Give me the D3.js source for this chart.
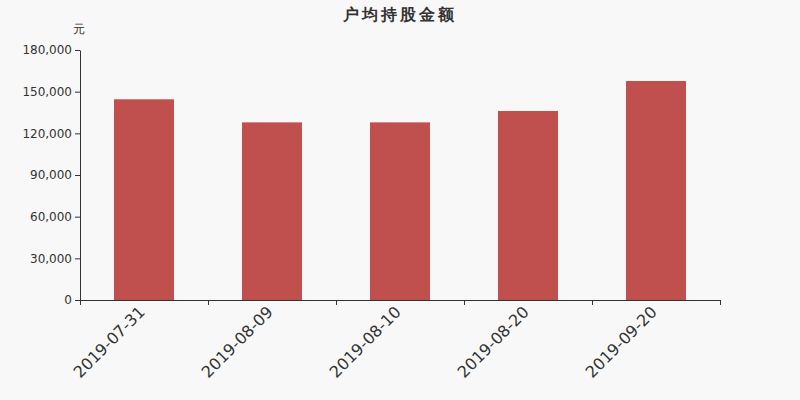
<!DOCTYPE html>
<html>
<head>
<meta charset="utf-8">
<script src="https://cdn.jsdelivr.net/npm/d3@7"></script>
<style>
  body { margin: 0; background: #f8f8f8; }
  svg, svg text { display: block; font-family: "DejaVu Sans", sans-serif; }
</style>
</head>
<body>
<div id="chart"></div>
<script>
// chart data
const categories = ['2019-07-31', '2019-08-09', '2019-08-10', '2019-08-20', '2019-09-20']
const values = [144500, 127900, 127900, 136100, 157700]
const yTicks = [0, 30000, 60000, 90000, 120000, 150000, 180000]
const title = '户均持股金额'
const unit = '元'

const width = 800, height = 400
const margin = { top: 50, right: 80, bottom: 100, left: 80 }
const innerW = width - margin.left - margin.right
const innerH = height - margin.top - margin.bottom
const font = '"DejaVu Sans", sans-serif'

const svg = d3.select('#chart').append('svg')
	.attr('width', width)
	.attr('height', height)

svg.append('rect').attr('width', width).attr('height', height).attr('fill', '#f8f8f8')

const g = svg.append('g')
	.attr('transform', `translate(${margin.left},${margin.top})`)

const x = d3.scaleBand().domain(categories).range([0, innerW])
const y = d3.scaleLinear().domain([0, 180000]).range([innerH, 0])

const barW = 60

// bars
g.selectAll('.bar')
	.data(values)
	.enter().append('rect')
	.attr('class', 'bar')
	.attr('x', (d, i) => x(categories[i]) + x.bandwidth() / 2 - barW / 2)
	.attr('y', d => y(d))
	.attr('width', barW)
	.attr('height', d => innerH - y(d))
	.attr('fill', '#c0504d')

// y axis
const yAxis = g.append('g')
	.call(d3.axisLeft(y).tickValues(yTicks).tickSize(5).tickPadding(3).tickFormat(d3.format(',')))
	.attr('font-family', font)
yAxis.select('.domain').attr('stroke', '#333').attr('d', `M0.5,0.5V${innerH + 0.5}`)
yAxis.selectAll('line').attr('stroke', '#333')
yAxis.selectAll('text').attr('fill', '#333').attr('font-size', 12)

// x axis with ticks on band edges
const xAxis = g.append('g')
	.attr('transform', `translate(0,${innerH})`)
	.call(d3.axisBottom(x).tickSize(0).tickSizeOuter(0))
	.attr('font-family', font)
xAxis.select('.domain').attr('stroke', '#333')
xAxis.selectAll('.tick line').remove()
xAxis.selectAll('.edge')
	.data(d3.range(categories.length + 1))
	.enter().append('line')
	.attr('class', 'edge')
	.attr('x1', i => Math.round(i * x.step()) + 0.5)
	.attr('x2', i => Math.round(i * x.step()) + 0.5)
	.attr('y1', 0)
	.attr('y2', 5)
	.attr('stroke', '#333')
xAxis.selectAll('.tick text')
	.attr('fill', '#333')
	.attr('font-size', 16)
	.attr('text-anchor', 'end')
	.attr('y', 0)
	.attr('dy', null)
	.attr('transform', 'translate(2,13) rotate(-45)')

// title & unit
svg.append('text')
	.attr('x', width / 2)
	.attr('y', 20)
	.attr('text-anchor', 'middle')
	.attr('font-size', 16)
	.attr('font-weight', 'bold')
	.attr('letter-spacing', 3)
	.attr('fill', '#333')
	.text(title)

svg.append('text')
	.attr('x', 79)
	.attr('y', 33)
	.attr('text-anchor', 'middle')
	.attr('font-size', 12)
	.attr('fill', '#333')
	.text(unit)
</script>
</body>
</html>
